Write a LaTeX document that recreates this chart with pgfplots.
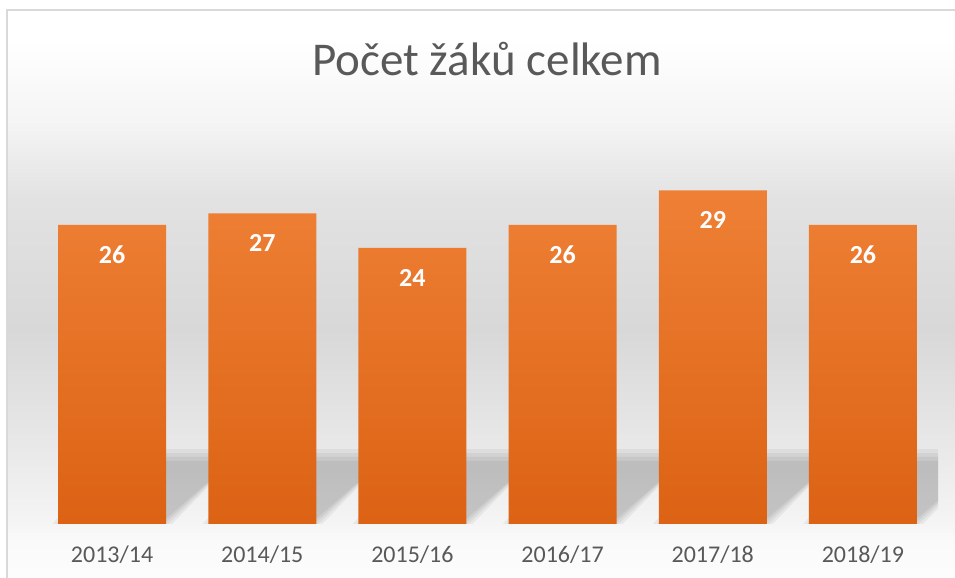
\documentclass[border=0pt]{standalone}
\usepackage{fontspec}
\setmainfont{Carlito}
\usepackage{pgfplots}
\pgfplotsset{compat=1.18}

\definecolor{txt}{HTML}{595959}
\definecolor{frame}{HTML}{D9D9D9}
\definecolor{barT}{HTML}{EE8035}
\definecolor{barB}{HTML}{DC6214}
\definecolor{bgA}{HTML}{FCFCFC}
\definecolor{bgB}{HTML}{FAFAFA}
\definecolor{bgC}{HTML}{F4F4F4}
\definecolor{bgD}{HTML}{E6E6E6}
\definecolor{bgE}{HTML}{D8D8D8}
\definecolor{bgF}{HTML}{E2E2E2}
\definecolor{bgG}{HTML}{F5F5F5}

% chart background, bottom (25bp) to top (75bp)
\pgfdeclareverticalshading{chartbg}{100bp}{%
  color(0bp)=(bgA); color(25bp)=(bgA); color(28.3bp)=(bgB);
  color(30.1bp)=(bgC); color(38bp)=(bgD); color(46.8bp)=(bgE);
  color(58.3bp)=(bgF); color(65.3bp)=(bgG); color(72.4bp)=(white);
  color(75bp)=(white); color(100bp)=(white)}

% soft skewed shadow behind a bar centred at #1
\newcommand{\barshadow}[1]{%
  \fill[black,opacity=.05] (axis cs:#1-0.3196,0) -- (axis cs:#1+0.3196,0)
    -- (axis cs:#1+0.7996,5.48) -- (axis cs:#1+0.1604,5.48) -- cycle;
  \fill[black,opacity=.05] (axis cs:#1-0.3463,0) -- (axis cs:#1+0.3463,0)
    -- (axis cs:#1+0.8263,5.83) -- (axis cs:#1+0.1337,5.83) -- cycle;
  \fill[black,opacity=.05] (axis cs:#1-0.3729,0) -- (axis cs:#1+0.3729,0)
    -- (axis cs:#1+0.8529,6.17) -- (axis cs:#1+0.1071,6.17) -- cycle;
  \fill[black,opacity=.05] (axis cs:#1-0.3996,0) -- (axis cs:#1+0.3996,0)
    -- (axis cs:#1+0.8796,6.52) -- (axis cs:#1+0.0804,6.52) -- cycle;
}

\begin{document}
\begin{tikzpicture}[x=1bp,y=1bp]
\useasboundingbox (0,0) rectangle (955,578);
\shade[shading=chartbg] (7,0) rectangle (960,568);
\draw[frame,line width=1.2bp] (7,-2) -- (7,568) -- (960,568);

\begin{axis}[
    at={(37bp,54bp)}, anchor=south west,
    scale only axis,
    width=901bp, height=402.5bp,
    xmin=-0.5, xmax=5.5, ymin=0, ymax=35,
    /pgf/number format/assume math mode=true,
    axis line style={draw=none},
    tick style={draw=none},
    ymajorticks=false,
    xtick={0,...,5},
    xticklabels={2013/14,2014/15,2015/16,2016/17,2017/18,2018/19},
    xticklabel style={anchor=base, yshift=-39bp, inner sep=0pt,
        text=txt, font=\fontsize{24bp}{28bp}\selectfont},
]
\pgfplotsinvokeforeach{0,...,5}{\barshadow{#1}}

\addplot[ybar, bar width=108bp, draw=none,
    top color=barT, bottom color=barB,
    nodes near coords,
    every node near coord/.append style={anchor=center, yshift=-29.5bp,
        text=white, font=\fontsize{26bp}{30bp}\selectfont\bfseries},
] coordinates {
    (0,26) (1,27) (2,24) (3,26) (4,29) (5,26)
};
\end{axis}

\node[anchor=base, text=txt, inner sep=0pt,
      font=\fontsize{47bp}{53bp}\selectfont] at (487,502) {Počet žáků celkem};
\end{tikzpicture}
\end{document}
